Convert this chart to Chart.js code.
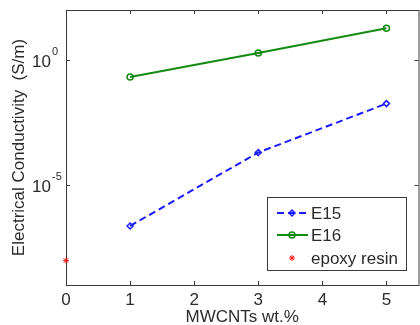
<!DOCTYPE html>
<html>
<head>
<meta charset="utf-8">
<script src="https://cdn.jsdelivr.net/npm/chart.js@4.4.1/dist/chart.umd.min.js"></script>
<style>
html,body{margin:0;padding:0;background:#fff;overflow:hidden;}
#wrap{width:424px;height:325px;position:relative;}
</style>
</head>
<body>
<div id="wrap"><canvas id="c"></canvas></div>
<script>
// ---- data ----
const xE = [1, 3, 5];
const e15 = [2.3e-7, 2.0e-4, 0.018];
const e16 = [0.21, 1.9, 18.6];
const epoxyX = [0];
const epoxy = [9.5e-9];
const seriesNames = ['E15', 'E16', 'epoxy resin'];
const xTickValues = [0, 1, 2, 3, 4, 5];
const yTickValues = [1e-5, 1];
const yTickExponents = ['-5', '0'];
const xTitle = 'MWCNTs wt.%';
const yTitle = 'Electrical Conductivity  (S/m)';

const FONT = '"Liberation Sans", Arial, Helvetica, sans-serif';
const TXT = '#2b2b2b';
const AX = '#3a3a3a';

const toPts = (xs, ys) => xs.map((x, i) => ({x: x, y: ys[i]}));

const framePlugin = {
  id: 'frame',
  beforeDatasetsDraw(chart) {
    const {ctx, chartArea: a, scales: {x, y}} = chart;
    ctx.save();
    ctx.strokeStyle = AX;
    ctx.lineWidth = 1;
    ctx.strokeRect(a.left + 0.5, a.top + 0.5, a.right - a.left, a.bottom - a.top);
    ctx.beginPath();
    xTickValues.forEach(v => {
      const px = Math.round(x.getPixelForValue(v)) + 0.5;
      ctx.moveTo(px, a.bottom); ctx.lineTo(px, a.bottom - 4);
      ctx.moveTo(px, a.top); ctx.lineTo(px, a.top + 4);
    });
    yTickValues.forEach(v => {
      const py = Math.round(y.getPixelForValue(v)) + 0.5;
      ctx.moveTo(a.left, py); ctx.lineTo(a.left + 4, py);
      ctx.moveTo(a.right, py); ctx.lineTo(a.right - 4, py);
    });
    ctx.stroke();
    // y tick labels with superscripts
    ctx.fillStyle = TXT;
    ctx.textBaseline = 'middle';
    yTickValues.forEach((v, i) => {
      const py = y.getPixelForValue(v);
      const xr = a.left - 15;
      ctx.font = '17px ' + FONT;
      ctx.textAlign = 'right';
      ctx.fillText('10', xr, py + 2);
      ctx.font = '11px ' + FONT;
      ctx.textAlign = 'left';
      ctx.fillText(yTickExponents[i], xr + 1, py - 8);
    });
    ctx.restore();
  },
  afterDraw(chart) {
    const {ctx} = chart;
    ctx.save();
    const bx = 267.5, by = 197.5, bw = 139, bh = 73;
    ctx.fillStyle = '#fff';
    ctx.fillRect(bx, by, bw, bh);
    ctx.strokeStyle = AX;
    ctx.lineWidth = 1;
    ctx.strokeRect(bx, by, bw, bh);
    const rows = [213, 235, 258];
    chart.data.datasets.forEach((ds, i) => {
      const yy = rows[i];
      ctx.strokeStyle = ds.borderColor;
      if (ds.showLine !== false) {
        ctx.lineWidth = ds.borderWidth;
        ctx.setLineDash(ds.borderDash || []);
        ctx.beginPath();
        ctx.moveTo(277, yy); ctx.lineTo(308, yy);
        ctx.stroke();
        ctx.setLineDash([]);
      }
      ctx.fillStyle = ds.pointBackgroundColor || '#fff';
      ctx.lineWidth = ds.pointBorderWidth || 1;
      Chart.helpers.drawPoint(ctx, {
        pointStyle: ds.pointStyle, radius: ds.pointRadius, rotation: 0,
        borderWidth: ds.pointBorderWidth || 1
      }, 292, yy);
      ctx.fillStyle = TXT;
      ctx.font = '17px ' + FONT;
      ctx.textAlign = 'left';
      ctx.textBaseline = 'middle';
      ctx.fillText(ds.label, 311, yy + 1);
    });
    ctx.restore();
  }
};

new Chart(document.getElementById('c'), {
  type: 'scatter',
  data: {
    datasets: [
      {
        label: seriesNames[0], data: toPts(xE, e15), showLine: true,
        borderColor: '#1a1aff', backgroundColor: 'transparent', borderWidth: 2,
        borderDash: [7, 4], pointStyle: 'rectRot', pointRadius: 3,
        pointBorderWidth: 1.5, pointBackgroundColor: 'rgba(255,255,255,0)', clip: false
      },
      {
        label: seriesNames[1], data: toPts(xE, e16), showLine: true,
        borderColor: '#138a13', backgroundColor: 'transparent', borderWidth: 2,
        pointStyle: 'circle', pointRadius: 3, pointBorderWidth: 1.5,
        pointBackgroundColor: 'rgba(255,255,255,0)', clip: false
      },
      {
        label: seriesNames[2], data: toPts(epoxyX, epoxy), showLine: false,
        borderColor: '#ff1010', backgroundColor: '#ff1010', pointBackgroundColor: '#ff1010',
        pointStyle: 'star', pointRadius: 3, pointBorderWidth: 1, clip: false
      }
    ]
  },
  options: {
    responsive: true,
    maintainAspectRatio: false,
    animation: false,
    devicePixelRatio: 1,
    layout: {padding: {top: 10, left: 0, right: 0, bottom: 0}},
    plugins: {legend: {display: false}, tooltip: {enabled: false}},
    scales: {
      x: {
        type: 'linear', min: 0, max: 5.5,
        afterBuildTicks: s => { s.ticks = xTickValues.map(v => ({value: v})); },
        afterFit: s => { s.height = 40; },
        grid: {display: false, drawTicks: false},
        border: {display: false},
        ticks: {color: TXT, font: {family: FONT, size: 17}, padding: 5, maxRotation: 0},
        title: {display: true, text: xTitle, color: TXT, font: {family: FONT, size: 17}, padding: {top: 0, bottom: -3}}
      },
      y: {
        type: 'logarithmic', min: 1e-9, max: 1e2,
        afterBuildTicks: s => { s.ticks = yTickValues.map(v => ({value: v})); },
        afterFit: s => { s.width = 66; },
        grid: {display: false, drawTicks: false},
        border: {display: false},
        ticks: {display: false},
        title: {display: true, text: yTitle, color: TXT, font: {family: FONT, size: 17}, padding: {top: 9, bottom: 0}}
      }
    }
  },
  plugins: [framePlugin]
});
</script>
</body>
</html>
